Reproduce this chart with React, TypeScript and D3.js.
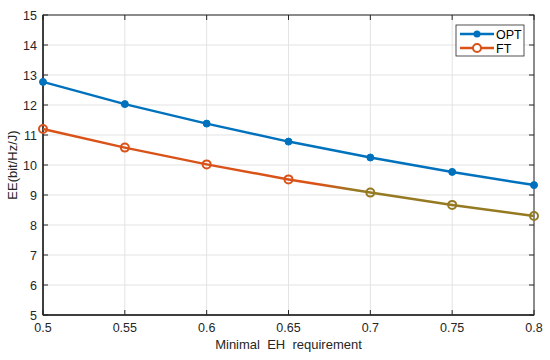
import React from "react";
import * as d3 from "d3";

const xValues = [0.5, 0.55, 0.6, 0.65, 0.7, 0.75, 0.8];
const optValues = [12.77, 12.03, 11.38, 10.78, 10.25, 9.77, 9.33];
const ftValues = [11.2, 10.58, 10.02, 9.52, 9.08, 8.67, 8.3];
const xTicks = [0.5, 0.55, 0.6, 0.65, 0.7, 0.75, 0.8];
const yTicks = [5, 6, 7, 8, 9, 10, 11, 12, 13, 14, 15];

const W = 550;
const H = 360;
const margin = { left: 43, right: 16, top: 15, bottom: 45 };
const font = "Liberation Sans, Arial, sans-serif";
const axisColor = "#262626";
const blue = "#0072BD";
const orange = "#D95319";
const olive = "#957A22";

export default function App() {
  const x = d3.scaleLinear().domain([0.5, 0.8]).range([margin.left, W - margin.right]);
  const y = d3.scaleLinear().domain([5, 15]).range([H - margin.bottom, margin.top]);

  const line = d3
    .line<number>()
    .x((_, i) => x(xValues[i]))
    .y((d) => y(d));

  const x0 = x.range()[0];
  const x1 = x.range()[1];
  const y0 = y.range()[0];
  const y1 = y.range()[1];

  // ft line turns brownish past ~0.67 in the reference
  const ftColor = (v: number) => (v > 0.67 ? olive : orange);

  return (
    <svg width={W} height={H} style={{ position: "absolute", left: 0, top: 0, background: "#fff" }}>
      <defs>
        <linearGradient id="ftGrad" gradientUnits="userSpaceOnUse" x1={x0} x2={x1} y1={0} y2={0}>
          <stop offset={(x(0.67) - x0) / (x1 - x0)} stopColor={orange} />
          <stop offset={(x(0.69) - x0) / (x1 - x0)} stopColor={olive} />
        </linearGradient>
      </defs>
      {/* grid */}
      {xTicks.map((t) => (
        <line key={"gx" + t} x1={x(t)} x2={x(t)} y1={y0} y2={y1} stroke="#e3e3e3" strokeWidth={1} />
      ))}
      {yTicks.map((t) => (
        <line key={"gy" + t} x1={x0} x2={x1} y1={y(t)} y2={y(t)} stroke="#e3e3e3" strokeWidth={1} />
      ))}
      {/* box */}
      <rect x={x0} y={y1} width={x1 - x0} height={y0 - y1} fill="none" stroke={axisColor} strokeWidth={1} />
      <line x1={x0} x2={x0} y1={y1} y2={y0} stroke={axisColor} strokeWidth={1.5} />
      <line x1={x0} x2={x1} y1={y0} y2={y0} stroke={axisColor} strokeWidth={1.5} />
      {/* ticks */}
      {xTicks.map((t) => (
        <g key={"tx" + t}>
          <line x1={x(t)} x2={x(t)} y1={y0} y2={y0 - 5} stroke={axisColor} />
          <line x1={x(t)} x2={x(t)} y1={y1} y2={y1 + 5} stroke={axisColor} />
          <text x={x(t)} y={y0 + 17} textAnchor="middle" fontSize={12.5} fontFamily={font} fill={axisColor}>
            {t}
          </text>
        </g>
      ))}
      {yTicks.map((t) => (
        <g key={"ty" + t}>
          <line x1={x0} x2={x0 + 5} y1={y(t)} y2={y(t)} stroke={axisColor} />
          <line x1={x1} x2={x1 - 5} y1={y(t)} y2={y(t)} stroke={axisColor} />
          <text x={x0 - 6} y={y(t) + 4.5} textAnchor="end" fontSize={12.5} fontFamily={font} fill={axisColor}>
            {t}
          </text>
        </g>
      ))}
      {/* axis labels */}
      <text x={(x0 + x1) / 2} y={y0 + 34} textAnchor="middle" fontSize={13} fontFamily={font} fill={axisColor} style={{ whiteSpace: "pre" }}>
        {"Minimal  EH  requirement"}
      </text>
      <text
        transform={`translate(17,${(y0 + y1) / 2}) rotate(-90)`}
        textAnchor="middle"
        fontSize={13}
        fontFamily={font}
        fill={axisColor}
      >
        EE(bit/Hz/J)
      </text>
      {/* series */}
      <path d={line(optValues) || ""} fill="none" stroke={blue} strokeWidth={2.5} />
      {optValues.map((v, i) => (
        <circle key={"o" + i} cx={x(xValues[i])} cy={y(v)} r={3.5} fill={blue} stroke={blue} strokeWidth={1} />
      ))}
      <path d={line(ftValues) || ""} fill="none" stroke="url(#ftGrad)" strokeWidth={2.5} />
      {ftValues.map((v, i) => (
        <circle key={"f" + i} cx={x(xValues[i])} cy={y(v)} r={4} fill="none" stroke={ftColor(xValues[i])} strokeWidth={2} />
      ))}
      {/* legend */}
      <g transform={`translate(456,25)`}>
        <rect x={0} y={0} width={68} height={31} fill="#fff" stroke={axisColor} strokeWidth={0.8} />
        <line x1={4} x2={38} y1={9} y2={9} stroke={blue} strokeWidth={2.5} />
        <circle cx={21} cy={9} r={3.5} fill={blue} />
        <text x={40} y={13.5} fontSize={12.5} fontFamily={font} fill="#000">OPT</text>
        <line x1={4} x2={38} y1={23} y2={23} stroke={orange} strokeWidth={2.5} />
        <circle cx={21} cy={23} r={4} fill="#fff" stroke={orange} strokeWidth={2} />
        <text x={40} y={27.5} fontSize={12.5} fontFamily={font} fill="#000">FT</text>
      </g>
    </svg>
  );
}
